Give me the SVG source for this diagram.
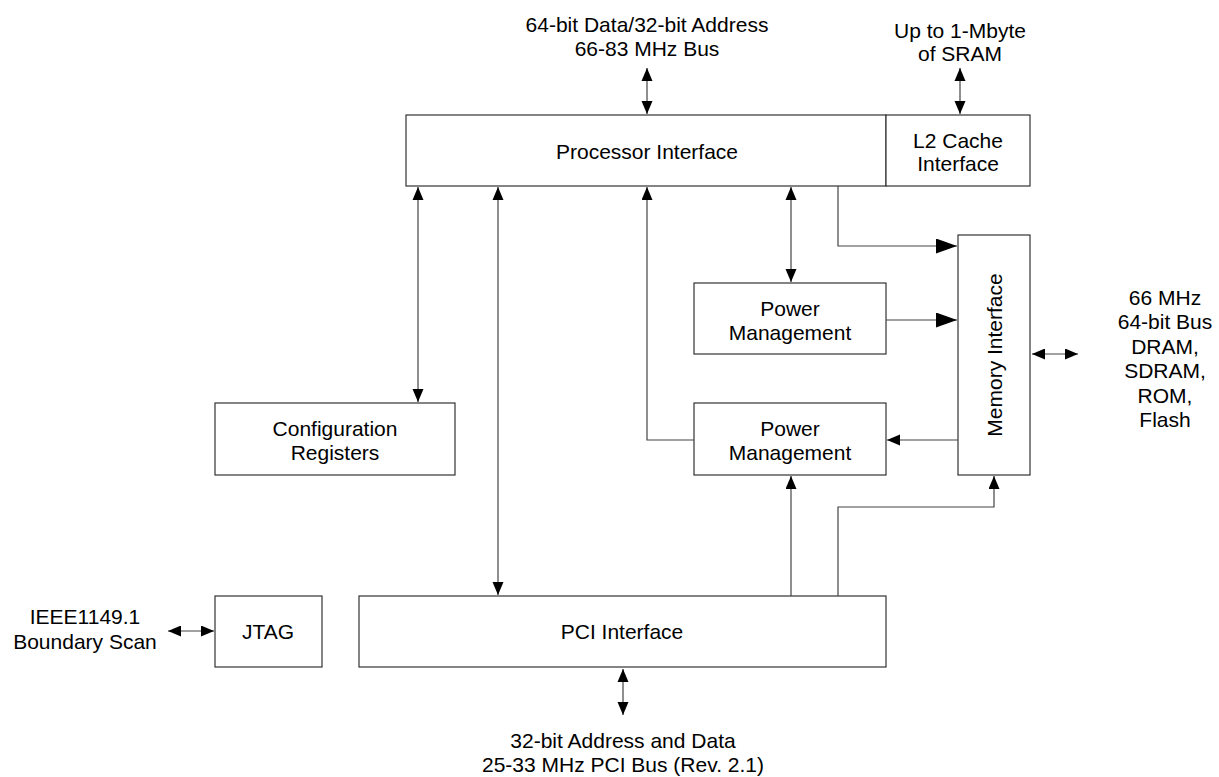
<svg xmlns="http://www.w3.org/2000/svg" width="1219" height="777" viewBox="0 0 1219 777">
<style>
.box{fill:#fff;stroke:#333;stroke-width:1.2}
.t{font-family:"Liberation Sans",Arial,sans-serif;font-size:21px;fill:#000;text-anchor:middle}
.c{fill:none;stroke:#444;stroke-width:1.2}
.a{marker-end:url(#ah)}
.b{marker-start:url(#ahs);marker-end:url(#ah)}
.big{marker-end:url(#ahb)}
</style>
<defs>
<marker id="ah" markerUnits="userSpaceOnUse" markerWidth="14" markerHeight="12" refX="13" refY="5.5" orient="auto"><path d="M0,0 L13,5.5 L0,11 Z" fill="#000"/></marker>
<marker id="ahs" markerUnits="userSpaceOnUse" markerWidth="14" markerHeight="12" refX="0" refY="5.5" orient="auto"><path d="M13,0 L0,5.5 L13,11 Z" fill="#000"/></marker>
<marker id="ahb" markerUnits="userSpaceOnUse" markerWidth="22" markerHeight="16" refX="21" refY="7.5" orient="auto"><path d="M0,0 L21,7.5 L0,15 Z" fill="#000"/></marker>
</defs>
<rect width="1219" height="777" fill="#fff"/>
<g id="processor">
<rect class="box" x="406" y="115" width="480" height="71"/>
<text class="t" x="647" y="158.5">Processor Interface</text>
</g>
<g id="l2cache">
<rect class="box" x="886" y="115" width="144" height="71"/>
<text class="t" x="958" y="147.5">L2 Cache</text>
<text class="t" x="958" y="170.5">Interface</text>
</g>
<g id="pm1">
<rect class="box" x="694" y="283" width="192" height="71"/>
<text class="t" x="790" y="315.5">Power</text>
<text class="t" x="790" y="339.5">Management</text>
</g>
<g id="pm2">
<rect class="box" x="694" y="403" width="192" height="72"/>
<text class="t" x="790" y="435.5">Power</text>
<text class="t" x="790" y="459.5">Management</text>
</g>
<g id="memory">
<rect class="box" x="958" y="235" width="72" height="240"/>
<text class="t" x="0" y="0" transform="translate(1001.5,355) rotate(-90)">Memory Interface</text>
</g>
<g id="config">
<rect class="box" x="215" y="403" width="240" height="72"/>
<text class="t" x="335" y="435.5">Configuration</text>
<text class="t" x="335" y="459.5">Registers</text>
</g>
<g id="jtag">
<rect class="box" x="215" y="596" width="107" height="71"/>
<text class="t" x="268" y="638.5">JTAG</text>
</g>
<g id="pci">
<rect class="box" x="359" y="596" width="527" height="71"/>
<text class="t" x="622" y="638.5">PCI Interface</text>
</g>
<g id="labels">
<text class="t" x="647" y="31.5">64-bit Data/32-bit Address</text>
<text class="t" x="647" y="55.5">66-83 MHz Bus</text>
<text class="t" x="960" y="37.5">Up to 1-Mbyte</text>
<text class="t" x="960" y="60.5">of SRAM</text>
<text class="t" x="1165" y="304.5">66 MHz</text>
<text class="t" x="1165" y="328.5">64-bit Bus</text>
<text class="t" x="1165" y="353.5">DRAM,</text>
<text class="t" x="1165" y="377.5">SDRAM,</text>
<text class="t" x="1165" y="402.5">ROM,</text>
<text class="t" x="1165" y="426.5">Flash</text>
<text class="t" x="85" y="623.5">IEEE1149.1</text>
<text class="t" x="85" y="648.5">Boundary Scan</text>
<text class="t" x="623" y="747.5">32-bit Address and Data</text>
<text class="t" x="623" y="771.5">25-33 MHz PCI Bus (Rev. 2.1)</text>
</g>
<g id="connectors">
<line class="c b" x1="647" y1="68" x2="647" y2="114"/>
<line class="c b" x1="960" y1="68" x2="960" y2="114"/>
<line class="c b" x1="418" y1="187" x2="418" y2="402"/>
<line class="c b" x1="498" y1="187" x2="498" y2="595"/>
<polyline class="c a" points="694,440 647,440 647,187"/>
<line class="c b" x1="791" y1="187" x2="791" y2="282"/>
<polyline class="c big" points="838,186 838,246 957,246"/>
<line class="c big" x1="886" y1="320" x2="957" y2="320"/>
<line class="c a" x1="958" y1="440" x2="887" y2="440"/>
<line class="c a" x1="791" y1="596" x2="791" y2="476"/>
<polyline class="c a" points="838,596 838,507 994,507 994,476"/>
<line class="c b" x1="1032" y1="354" x2="1078" y2="354"/>
<line class="c b" x1="168" y1="631" x2="214" y2="631"/>
<line class="c b" x1="623" y1="669" x2="623" y2="715"/>
</g>
</svg>
